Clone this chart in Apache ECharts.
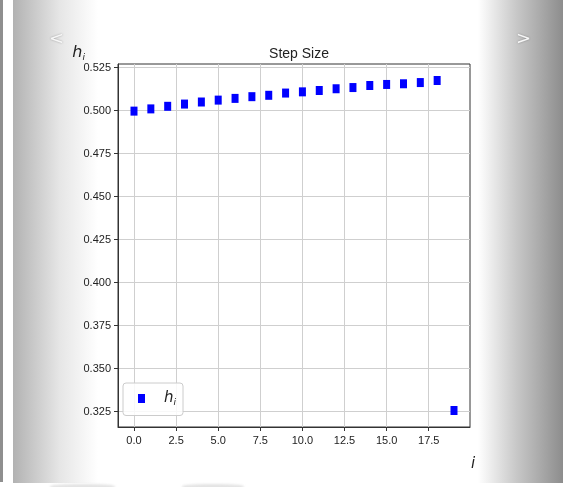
<!DOCTYPE html>
<html>
<head>
<meta charset="utf-8">
<script src="https://cdn.jsdelivr.net/npm/echarts@6/dist/echarts.min.js"></script>
<style>
  html, body { margin: 0; padding: 0; background: #ffffff; }
  #wrap { position: relative; width: 570px; height: 487px; overflow: hidden; background: #ffffff; }
  .bg { position: absolute; }
  #strip { left: 0; top: 0; width: 3px; height: 482px; background: #8f8f8f; }
  #lgrad { left: 13px; top: 0; width: 85px; height: 483px; background: linear-gradient(to right, #b2b2b2, #e6e6e6 55%, #ffffff); }
  #rgrad { left: 478px; top: 0; width: 85px; height: 483px; background: linear-gradient(to right, #ffffff, #c8c8c8 45%, #8d8d8d); }
  #sh1 { left: 50px; top: 484px; width: 65px; height: 6px; background: #e4e4e4; border-radius: 40%; filter: blur(1px); }
  #sh2 { left: 182px; top: 484px; width: 62px; height: 6px; background: #e4e4e4; border-radius: 40%; filter: blur(1px); }
  #chart { position: absolute; left: 0; top: 0; width: 570px; height: 487px; }
</style>
</head>
<body>
<div id="wrap">
  <div class="bg" id="strip"></div>
  <div class="bg" id="lgrad"></div>
  <div class="bg" id="rgrad"></div>
  <div class="bg" id="sh1"></div>
  <div class="bg" id="sh2"></div>
  <div id="chart"></div>
</div>
<script>
// ---- data ----
const titleText = 'Step Size';
const indices = [0, 1, 2, 3, 4, 5, 6, 7, 8, 9, 10, 11, 12, 13, 14, 15, 16, 17, 18, 19];
const stepSizes = [0.4997, 0.5010, 0.5025, 0.5038, 0.5050, 0.5061, 0.5071, 0.5081, 0.5089, 0.5102,
                   0.5109, 0.5117, 0.5127, 0.5134, 0.5146, 0.5152, 0.5156, 0.5163, 0.5175, 0.3257];
const xTicks = [0, 2.5, 5, 7.5, 10, 12.5, 15, 17.5];
const yTicks = [0.325, 0.350, 0.375, 0.400, 0.425, 0.450, 0.475, 0.500, 0.525];

// matplotlib-like 5% margins
const xmin0 = Math.min(...indices), xmax0 = Math.max(...indices);
const ymin0 = Math.min(...stepSizes), ymax0 = Math.max(...stepSizes);
const xpad = (xmax0 - xmin0) * 0.05, ypad = (ymax0 - ymin0) * 0.05;

const FONT = 'Liberation Sans';
const AX = '#333333';

const chart = echarts.init(document.getElementById('chart'), null, { renderer: 'canvas' });
chart.setOption({
  animation: false,
  backgroundColor: 'transparent',
  title: {
    text: titleText,
    left: 294, top: 42, textAlign: 'center',
    textStyle: { fontFamily: FONT, fontSize: 14, fontWeight: 'normal', color: '#222' }
  },
  grid: { left: 118, right: 100, top: 64, bottom: 60, show: true, borderColor: AX, borderWidth: 1, backgroundColor: '#ffffff' },
  legend: {
    left: 123, top: 383, orient: 'vertical',
    padding: [8, 7, 8, 15],
    itemWidth: 7, itemHeight: 9,
    backgroundColor: 'rgba(255,255,255,0.85)',
    borderColor: '#cccccc', borderWidth: 1, borderRadius: 3,
    data: [{ name: 'h_i', icon: 'rect', itemStyle: { color: '#0000ff', opacity: 1 } }],
    formatter: function () { return '{h|h}{s|i}'; },
    textStyle: {
      fontFamily: 'DejaVu Sans', color: '#222',
      rich: {
        h: { fontSize: 15, fontStyle: 'italic', padding: [0, 0, 0, 14], verticalAlign: 'middle', lineHeight: 18 },
        s: { fontSize: 9, fontStyle: 'italic', verticalAlign: 'bottom', lineHeight: 9 }
      }
    }
  },
  xAxis: {
    type: 'value',
    min: xmin0 - xpad, max: xmax0 + xpad,
    name: 'i',
    nameLocation: 'end', nameGap: 1,
    nameTextStyle: { fontFamily: 'DejaVu Sans', fontStyle: 'italic', fontSize: 15, color: '#222', verticalAlign: 'top', padding: [30, 0, 0, 0] },
    axisLine: { show: true, onZero: false, lineStyle: { color: AX } },
    axisTick: { show: true, length: 4, inside: false, lineStyle: { color: AX }, customValues: xTicks },
    axisLabel: { customValues: xTicks, margin: 8, fontFamily: FONT, fontSize: 11, color: '#222', formatter: v => v.toFixed(1) },
    splitLine: { show: true, lineStyle: { color: '#cfcfcf', width: 1 } }
  },
  yAxis: {
    type: 'value',
    min: ymin0 - ypad, max: ymax0 + ypad,
    name: '{h|h}{s|i}',
    nameLocation: 'end', nameGap: 2,
    nameTextStyle: {
      align: 'right', padding: [0, 33, 0, 0], fontFamily: 'DejaVu Sans', color: '#222',
      rich: {
        h: { fontSize: 16, fontStyle: 'italic', verticalAlign: 'middle', lineHeight: 18 },
        s: { fontSize: 9, fontStyle: 'italic', verticalAlign: 'bottom', lineHeight: 9 }
      }
    },
    axisLine: { show: true, onZero: false, lineStyle: { color: AX } },
    axisTick: { show: true, length: 4, inside: false, lineStyle: { color: AX }, customValues: yTicks },
    axisLabel: { customValues: yTicks, margin: 7, fontFamily: FONT, fontSize: 11, color: '#222', formatter: v => v.toFixed(3) },
    splitLine: { show: true, lineStyle: { color: '#cfcfcf', width: 1 } }
  },
  graphic: [
    { type: 'text', left: 49, top: 30, style: { text: '<', fontSize: 18, fontFamily: 'DejaVu Sans', fill: '#f7f7f7', textShadowColor: 'rgba(0,0,0,0.35)', textShadowBlur: 2 } },
    { type: 'text', left: 516, top: 30, style: { text: '>', fontSize: 18, fontFamily: 'DejaVu Sans', fill: '#f7f7f7', textShadowColor: 'rgba(0,0,0,0.35)', textShadowBlur: 2 } }
  ],
  series: [{
    name: 'h_i',
    type: 'scatter',
    symbol: 'rect',
    symbolSize: [7, 9],
    itemStyle: { color: '#0000ff', opacity: 1 },
    data: indices.map((x, k) => [x, stepSizes[k]])
  }]
});
</script>
</body>
</html>
